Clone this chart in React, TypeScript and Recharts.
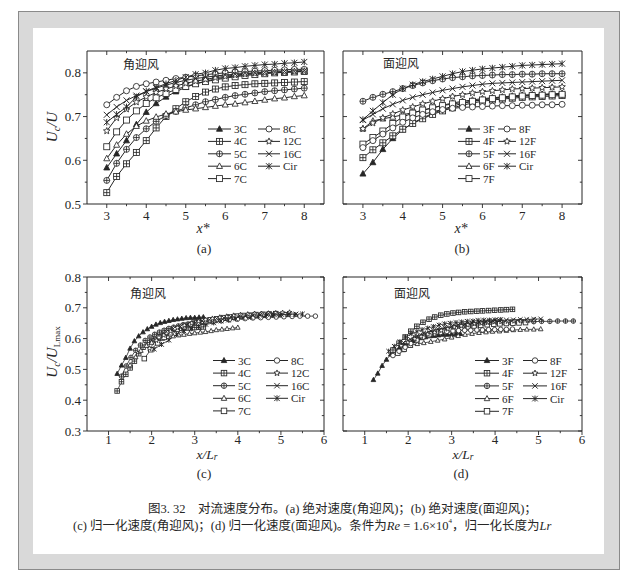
import React from 'react';
import { LineChart, Line, XAxis, YAxis } from 'recharts';

const SERIF = "'Liberation Serif', 'Noto Sans CJK SC', serif";
const CJK = "'Noto Sans CJK SC', 'Liberation Serif', sans-serif";
const INK = '#262626';

// ---------- panel (a)/(b): x* positions ----------
const xStar = [3, 3.25, 3.5, 3.75, 4, 4.25, 4.5, 4.75, 5, 5.25, 5.5, 5.75, 6, 6.25, 6.5, 6.75, 7, 7.25, 7.5, 7.75, 8];

// ---------- panel (a): Uc/U, corner wind ----------
const a3C = [0.583, 0.615, 0.645, 0.682, 0.71, 0.73, 0.745, 0.757, 0.767, 0.775, 0.781, 0.786, 0.79, 0.793, 0.796, 0.798, 0.8, 0.801, 0.802, 0.803, 0.804];
const a4C = [0.526, 0.563, 0.592, 0.618, 0.645, 0.674, 0.7, 0.718, 0.734, 0.746, 0.756, 0.763, 0.768, 0.771, 0.773, 0.775, 0.776, 0.777, 0.778, 0.779, 0.78];
const a5C = [0.554, 0.593, 0.625, 0.652, 0.672, 0.689, 0.702, 0.712, 0.72, 0.727, 0.734, 0.739, 0.744, 0.748, 0.751, 0.754, 0.757, 0.759, 0.761, 0.763, 0.765];
const a6C = [0.604, 0.635, 0.66, 0.678, 0.69, 0.699, 0.706, 0.711, 0.715, 0.718, 0.721, 0.724, 0.727, 0.729, 0.732, 0.735, 0.738, 0.741, 0.743, 0.746, 0.748];
const a7C = [0.631, 0.665, 0.692, 0.713, 0.73, 0.743, 0.753, 0.762, 0.769, 0.775, 0.78, 0.784, 0.788, 0.791, 0.794, 0.796, 0.798, 0.8, 0.801, 0.802, 0.803];
const a8C = [0.727, 0.744, 0.759, 0.769, 0.775, 0.779, 0.783, 0.787, 0.79, 0.793, 0.796, 0.798, 0.8, 0.802, 0.803, 0.804, 0.805, 0.806, 0.807, 0.808, 0.808];
const a12C = [0.667, 0.697, 0.717, 0.733, 0.745, 0.755, 0.763, 0.77, 0.776, 0.781, 0.785, 0.789, 0.792, 0.795, 0.797, 0.799, 0.8, 0.801, 0.802, 0.803, 0.804];
const a16C = [0.704, 0.722, 0.737, 0.748, 0.757, 0.765, 0.772, 0.778, 0.783, 0.787, 0.79, 0.793, 0.795, 0.797, 0.799, 0.8, 0.801, 0.802, 0.803, 0.804, 0.805];
const aCir = [0.687, 0.705, 0.722, 0.745, 0.758, 0.767, 0.775, 0.783, 0.79, 0.797, 0.8, 0.806, 0.81, 0.812, 0.815, 0.817, 0.819, 0.82, 0.822, 0.823, 0.825];

// ---------- panel (b): Uc/U, face wind ----------
const b3F = [0.569, 0.595, 0.625, 0.65, 0.67, 0.685, 0.697, 0.707, 0.716, 0.724, 0.73, 0.735, 0.739, 0.742, 0.744, 0.746, 0.748, 0.749, 0.75, 0.751, 0.752];
const b4F = [0.606, 0.624, 0.64, 0.656, 0.671, 0.684, 0.695, 0.705, 0.713, 0.72, 0.726, 0.731, 0.735, 0.738, 0.74, 0.742, 0.744, 0.745, 0.746, 0.747, 0.748];
const b5F = [0.735, 0.744, 0.751, 0.757, 0.764, 0.771, 0.777, 0.782, 0.786, 0.789, 0.791, 0.793, 0.794, 0.795, 0.796, 0.796, 0.797, 0.797, 0.798, 0.798, 0.798];
const b6F = [0.672, 0.69, 0.695, 0.699, 0.704, 0.709, 0.714, 0.72, 0.726, 0.731, 0.735, 0.738, 0.741, 0.743, 0.745, 0.747, 0.749, 0.75, 0.751, 0.752, 0.753];
const b7F = [0.637, 0.652, 0.667, 0.684, 0.699, 0.708, 0.715, 0.72, 0.725, 0.729, 0.732, 0.735, 0.738, 0.741, 0.743, 0.745, 0.747, 0.748, 0.749, 0.75, 0.751];
const b8F = [0.629, 0.645, 0.66, 0.674, 0.687, 0.697, 0.705, 0.711, 0.716, 0.719, 0.721, 0.722, 0.723, 0.724, 0.725, 0.725, 0.726, 0.726, 0.727, 0.727, 0.728];
const b12F = [0.672, 0.685, 0.697, 0.706, 0.715, 0.722, 0.729, 0.735, 0.741, 0.746, 0.75, 0.754, 0.757, 0.759, 0.761, 0.763, 0.764, 0.765, 0.766, 0.767, 0.768];
const b16F = [0.692, 0.705, 0.718, 0.728, 0.737, 0.744, 0.75, 0.755, 0.76, 0.764, 0.768, 0.771, 0.774, 0.776, 0.777, 0.778, 0.779, 0.78, 0.781, 0.782, 0.783];
const bCir = [0.693, 0.713, 0.732, 0.75, 0.764, 0.773, 0.78, 0.786, 0.792, 0.798, 0.803, 0.806, 0.809, 0.811, 0.813, 0.815, 0.817, 0.818, 0.819, 0.82, 0.821];

// ---------- panel (c): Uc/U_Lmax vs x/Lr, corner wind ----------
const c3Cx = [1.2, 1.3, 1.4, 1.5, 1.6, 1.7, 1.8, 1.9, 2.0, 2.1, 2.2, 2.3, 2.4, 2.5, 2.6, 2.7, 2.8, 2.9, 3.0, 3.1, 3.2];
const c3C = [0.486, 0.513, 0.538, 0.568, 0.592, 0.608, 0.621, 0.631, 0.639, 0.646, 0.651, 0.655, 0.658, 0.661, 0.663, 0.665, 0.667, 0.668, 0.668, 0.669, 0.67];
const c4Cx = [1.2, 1.3, 1.4, 1.5, 1.6, 1.7, 1.8, 1.9, 2.0, 2.1, 2.2, 2.3, 2.4, 2.5, 2.6, 2.7, 2.8, 2.9, 3.0, 3.1, 3.2];
const c4C = [0.43, 0.46, 0.484, 0.505, 0.527, 0.551, 0.572, 0.587, 0.6, 0.61, 0.618, 0.624, 0.628, 0.63, 0.632, 0.634, 0.635, 0.635, 0.636, 0.637, 0.638];
const c5Cx = [1.3, 1.41, 1.52, 1.63, 1.74, 1.85, 1.96, 2.07, 2.18, 2.29, 2.4, 2.51, 2.62, 2.73, 2.84, 2.95, 3.06, 3.17, 3.28, 3.39, 3.5];
const c5C = [0.478, 0.511, 0.539, 0.562, 0.579, 0.594, 0.605, 0.614, 0.621, 0.627, 0.633, 0.637, 0.641, 0.645, 0.647, 0.65, 0.653, 0.654, 0.656, 0.658, 0.659];
const c6Cx = [1.5, 1.63, 1.75, 1.88, 2.0, 2.13, 2.25, 2.38, 2.5, 2.63, 2.75, 2.88, 3.0, 3.13, 3.25, 3.38, 3.5, 3.63, 3.75, 3.88, 4.0];
const c6C = [0.514, 0.54, 0.561, 0.577, 0.587, 0.594, 0.6, 0.605, 0.608, 0.611, 0.613, 0.616, 0.618, 0.62, 0.622, 0.625, 0.628, 0.63, 0.632, 0.634, 0.636];
const c7Cx = [1.83, 1.98, 2.14, 2.29, 2.44, 2.59, 2.75, 2.9, 3.05, 3.2, 3.36, 3.51, 3.66, 3.81, 3.97, 4.12, 4.27, 4.42, 4.58, 4.73, 4.88];
const c7C = [0.535, 0.564, 0.586, 0.604, 0.619, 0.63, 0.638, 0.646, 0.652, 0.657, 0.661, 0.664, 0.668, 0.67, 0.673, 0.675, 0.676, 0.678, 0.679, 0.68, 0.681];
const c8Cx = [2.17, 2.35, 2.53, 2.71, 2.9, 3.08, 3.26, 3.44, 3.62, 3.8, 3.99, 4.17, 4.35, 4.53, 4.71, 4.89, 5.07, 5.26, 5.44, 5.62, 5.8];
const c8C = [0.606, 0.62, 0.633, 0.641, 0.646, 0.649, 0.653, 0.656, 0.658, 0.661, 0.663, 0.665, 0.667, 0.668, 0.669, 0.67, 0.671, 0.672, 0.673, 0.673, 0.673];
const c12Cx = [1.95, 2.11, 2.28, 2.44, 2.6, 2.76, 2.93, 3.09, 3.25, 3.41, 3.58, 3.74, 3.9, 4.06, 4.23, 4.39, 4.55, 4.71, 4.88, 5.04, 5.2];
const c12C = [0.568, 0.594, 0.611, 0.624, 0.635, 0.643, 0.65, 0.656, 0.661, 0.665, 0.669, 0.672, 0.675, 0.677, 0.679, 0.681, 0.681, 0.682, 0.683, 0.684, 0.685];
const c16Cx = [2.0, 2.17, 2.34, 2.5, 2.67, 2.84, 3.01, 3.17, 3.34, 3.51, 3.68, 3.84, 4.01, 4.18, 4.35, 4.51, 4.68, 4.85, 5.02, 5.18, 5.35];
const c16C = [0.595, 0.61, 0.622, 0.632, 0.639, 0.646, 0.652, 0.657, 0.661, 0.665, 0.667, 0.67, 0.671, 0.673, 0.675, 0.676, 0.677, 0.677, 0.678, 0.679, 0.68];
const cCirx = [2.06, 2.23, 2.4, 2.58, 2.75, 2.92, 3.09, 3.26, 3.44, 3.61, 3.78, 3.95, 4.12, 4.3, 4.47, 4.64, 4.81, 4.98, 5.16, 5.33, 5.5];
const cCir = [0.566, 0.581, 0.595, 0.614, 0.625, 0.632, 0.639, 0.646, 0.651, 0.657, 0.66, 0.664, 0.668, 0.669, 0.672, 0.674, 0.675, 0.676, 0.678, 0.678, 0.68];

// ---------- panel (d): Uc/U_Lmax vs x/Lr, face wind ----------
const d3Fx = [1.2, 1.3, 1.4, 1.5, 1.6, 1.7, 1.8, 1.9, 2.0, 2.1, 2.2, 2.3, 2.4, 2.5, 2.6, 2.7, 2.8, 2.9, 3.0, 3.1, 3.2];
const d3F = [0.466, 0.487, 0.512, 0.532, 0.549, 0.561, 0.571, 0.579, 0.586, 0.593, 0.598, 0.602, 0.605, 0.608, 0.609, 0.611, 0.613, 0.613, 0.614, 0.615, 0.616];
const d4Fx = [1.65, 1.79, 1.93, 2.06, 2.2, 2.34, 2.48, 2.61, 2.75, 2.89, 3.03, 3.16, 3.3, 3.44, 3.58, 3.71, 3.85, 3.99, 4.13, 4.26, 4.4];
const d4F = [0.563, 0.585, 0.605, 0.624, 0.64, 0.653, 0.663, 0.67, 0.676, 0.68, 0.683, 0.685, 0.687, 0.688, 0.689, 0.69, 0.691, 0.692, 0.693, 0.694, 0.695];
const d5Fx = [2.17, 2.35, 2.53, 2.71, 2.9, 3.08, 3.26, 3.44, 3.62, 3.8, 3.99, 4.17, 4.35, 4.53, 4.71, 4.89, 5.07, 5.26, 5.44, 5.62, 5.8];
const d5F = [0.605, 0.612, 0.618, 0.623, 0.629, 0.635, 0.64, 0.644, 0.647, 0.649, 0.651, 0.653, 0.653, 0.654, 0.655, 0.655, 0.656, 0.656, 0.657, 0.657, 0.657];
const d6Fx = [1.89, 2.05, 2.21, 2.36, 2.52, 2.68, 2.84, 3.0, 3.15, 3.31, 3.47, 3.63, 3.79, 3.94, 4.1, 4.26, 4.42, 4.58, 4.73, 4.89, 5.05];
const d6F = [0.563, 0.578, 0.583, 0.586, 0.59, 0.594, 0.598, 0.604, 0.609, 0.613, 0.616, 0.619, 0.621, 0.623, 0.624, 0.626, 0.628, 0.629, 0.63, 0.63, 0.631];
const d7Fx = [1.76, 1.91, 2.05, 2.2, 2.35, 2.5, 2.64, 2.79, 2.94, 3.08, 3.23, 3.38, 3.52, 3.67, 3.82, 3.97, 4.11, 4.26, 4.41, 4.55, 4.7];
const d7F = [0.553, 0.566, 0.579, 0.594, 0.607, 0.615, 0.621, 0.625, 0.629, 0.633, 0.635, 0.638, 0.641, 0.643, 0.645, 0.647, 0.648, 0.649, 0.65, 0.651, 0.652];
const d8Fx = [1.65, 1.79, 1.93, 2.06, 2.2, 2.34, 2.48, 2.61, 2.75, 2.89, 3.03, 3.16, 3.3, 3.44, 3.58, 3.71, 3.85, 3.99, 4.13, 4.26, 4.4];
const d8F = [0.545, 0.559, 0.572, 0.584, 0.595, 0.604, 0.611, 0.616, 0.62, 0.623, 0.625, 0.626, 0.627, 0.627, 0.628, 0.628, 0.629, 0.629, 0.63, 0.63, 0.631];
const d12Fx = [1.84, 1.99, 2.15, 2.3, 2.45, 2.61, 2.76, 2.91, 3.06, 3.22, 3.37, 3.52, 3.68, 3.83, 3.98, 4.14, 4.29, 4.44, 4.59, 4.75, 4.9];
const d12F = [0.577, 0.588, 0.599, 0.607, 0.614, 0.62, 0.626, 0.631, 0.637, 0.641, 0.644, 0.648, 0.65, 0.652, 0.654, 0.655, 0.656, 0.657, 0.658, 0.659, 0.66];
const d16Fx = [1.89, 2.05, 2.21, 2.36, 2.52, 2.68, 2.84, 3.0, 3.15, 3.31, 3.47, 3.63, 3.79, 3.94, 4.1, 4.26, 4.42, 4.58, 4.73, 4.89, 5.05];
const d16F = [0.587, 0.598, 0.609, 0.617, 0.625, 0.631, 0.636, 0.64, 0.645, 0.648, 0.651, 0.654, 0.656, 0.658, 0.659, 0.66, 0.661, 0.662, 0.662, 0.663, 0.664];
const dCirx = [1.55, 1.68, 1.81, 1.94, 2.07, 2.2, 2.32, 2.45, 2.58, 2.71, 2.84, 2.97, 3.1, 3.23, 3.36, 3.49, 3.61, 3.74, 3.87, 4.0, 4.13];
const dCir = [0.559, 0.575, 0.59, 0.605, 0.616, 0.623, 0.629, 0.634, 0.639, 0.644, 0.648, 0.65, 0.652, 0.654, 0.656, 0.657, 0.659, 0.66, 0.66, 0.661, 0.662];

// ---------- names, ticks ----------
const namesC = ['3C', '4C', '5C', '6C', '7C', '8C', '12C', '16C', 'Cir'];
const namesF = ['3F', '4F', '5F', '6F', '7F', '8F', '12F', '16F', 'Cir'];
const markerKinds = ['triFill', 'sqCross', 'circPlus', 'triOpen', 'square', 'circle', 'star', 'cross', 'asterisk'];

const xStarTicks = [3, 3.5, 4, 4.5, 5, 5.5, 6, 6.5, 7, 7.5, 8];
const xStarMajors = [3, 4, 5, 6, 7, 8];
const yAbsTicks = [0.5, 0.55, 0.6, 0.65, 0.7, 0.75, 0.8];
const yAbsMajors = [0.5, 0.6, 0.7, 0.8];
const xLrTicks = [1, 1.5, 2, 2.5, 3, 3.5, 4, 4.5, 5, 5.5, 6];
const xLrMajors = [1, 2, 3, 4, 5, 6];
const yNormTicks = [0.3, 0.35, 0.4, 0.45, 0.5, 0.55, 0.6, 0.65, 0.7, 0.75, 0.8];
const yNormMajors = [0.3, 0.4, 0.5, 0.6, 0.7, 0.8];

const zip = (xs: number[], ys: number[]) => xs.map((x, i) => ({ x, y: ys[i] }));

const seriesA = [a3C, a4C, a5C, a6C, a7C, a8C, a12C, a16C, aCir].map((ys, i) => ({ name: namesC[i], kind: markerKinds[i], data: zip(xStar, ys) }));
const seriesB = [b3F, b4F, b5F, b6F, b7F, b8F, b12F, b16F, bCir].map((ys, i) => ({ name: namesF[i], kind: markerKinds[i], data: zip(xStar, ys) }));
const seriesC = [
  zip(c3Cx, c3C), zip(c4Cx, c4C), zip(c5Cx, c5C), zip(c6Cx, c6C), zip(c7Cx, c7C),
  zip(c8Cx, c8C), zip(c12Cx, c12C), zip(c16Cx, c16C), zip(cCirx, cCir),
].map((data, i) => ({ name: namesC[i], kind: markerKinds[i], data }));
const seriesD = [
  zip(d3Fx, d3F), zip(d4Fx, d4F), zip(d5Fx, d5F), zip(d6Fx, d6F), zip(d7Fx, d7F),
  zip(d8Fx, d8F), zip(d12Fx, d12F), zip(d16Fx, d16F), zip(dCirx, dCir),
].map((data, i) => ({ name: namesF[i], kind: markerKinds[i], data }));

// ---------- marker ----------
function Marker({ cx, cy, kind, size }: { cx: number; cy: number; kind: string; size: number }) {
  if (cx == null || cy == null || isNaN(cx) || isNaN(cy)) return <g />;
  const h = size / 2;
  const sw = 0.85;
  const base = { stroke: INK, strokeWidth: sw, fill: '#fff' };
  switch (kind) {
    case 'triFill':
    case 'triOpen': {
      const pts = `${cx},${cy - h * 1.1} ${cx - h},${cy + h * 0.75} ${cx + h},${cy + h * 0.75}`;
      return <polygon points={pts} {...base} fill={kind === 'triFill' ? INK : '#fff'} />;
    }
    case 'sqCross':
      return (
        <g>
          <rect x={cx - h} y={cy - h} width={size} height={size} {...base} />
          <line x1={cx - h} x2={cx + h} y1={cy} y2={cy} stroke={INK} strokeWidth={sw} />
          <line x1={cx} x2={cx} y1={cy - h} y2={cy + h} stroke={INK} strokeWidth={sw} />
        </g>
      );
    case 'circPlus':
      return (
        <g>
          <circle cx={cx} cy={cy} r={h} {...base} />
          <line x1={cx - h} x2={cx + h} y1={cy} y2={cy} stroke={INK} strokeWidth={sw} />
          <line x1={cx} x2={cx} y1={cy - h} y2={cy + h} stroke={INK} strokeWidth={sw} />
        </g>
      );
    case 'square':
      return <rect x={cx - h} y={cy - h} width={size} height={size} {...base} />;
    case 'circle':
      return <circle cx={cx} cy={cy} r={h} {...base} />;
    case 'star': {
      const R = h * 1.15;
      const r = R * 0.45;
      const pts: string[] = [];
      for (let k = 0; k < 10; k++) {
        const ang = (-90 + k * 36) * Math.PI / 180;
        const rad = k % 2 === 0 ? R : r;
        pts.push(`${cx + rad * Math.cos(ang)},${cy + rad * Math.sin(ang)}`);
      }
      return <polygon points={pts.join(' ')} {...base} />;
    }
    case 'cross':
      return (
        <g stroke={INK} strokeWidth={sw + 0.1}>
          <line x1={cx - h} x2={cx + h} y1={cy - h} y2={cy + h} />
          <line x1={cx - h} x2={cx + h} y1={cy + h} y2={cy - h} />
        </g>
      );
    case 'asterisk':
    default:
      return (
        <g stroke={INK} strokeWidth={sw + 0.1}>
          <line x1={cx - h} x2={cx + h} y1={cy - h} y2={cy + h} />
          <line x1={cx - h} x2={cx + h} y1={cy + h} y2={cy - h} />
          <line x1={cx} x2={cx} y1={cy - h * 1.1} y2={cy + h * 1.1} />
        </g>
      );
  }
}

// ---------- axis tick ----------
function AxisTick(props: any) {
  const { x, y, payload, side, majors, dir, showLabel, off } = props;
  const v = Number(payload && payload.value);
  const major = majors.some((m: number) => Math.abs(m - v) < 1e-6);
  const len = major ? 4 : 2.2;
  let x2 = x;
  let y2 = y;
  if (side === 'bottom') y2 = y + dir * len;
  else if (side === 'top') y2 = y - dir * len;
  else if (side === 'left') x2 = x - dir * len;
  else x2 = x + dir * len;
  let label = null;
  if (showLabel && major) {
    if (side === 'bottom') {
      label = (
        <text x={x} y={y + off} textAnchor="middle" dominantBaseline="central" fontFamily={SERIF} fontSize={13} fill={INK}>
          {String(v)}
        </text>
      );
    } else {
      label = (
        <text x={x - off} y={y} textAnchor="end" dominantBaseline="central" fontFamily={SERIF} fontSize={13} fill={INK}>
          {v.toFixed(1)}
        </text>
      );
    }
  }
  return (
    <g>
      <line x1={x} y1={y} x2={x2} y2={y2} stroke={INK} strokeWidth={0.9} />
      {label}
    </g>
  );
}

type PanelProps = {
  plot: { x: number; y: number; w: number; h: number };
  xDomain: number[];
  yDomain: number[];
  xTicks: number[];
  xMajors: number[];
  yTicks: number[];
  yMajors: number[];
  yLabels: boolean;
  xLabOff: number;
  series: { name: string; kind: string; data: { x: number; y: number }[] }[];
  ms: number;
  lw: number;
};

function Panel({ plot, xDomain, yDomain, xTicks, xMajors, yTicks, yMajors, yLabels, xLabOff, series, ms, lw }: PanelProps) {
  const padL = 50, padT = 8, padR = 8, padB = 26;
  const w = plot.w + padL + padR;
  const h = plot.h + padT + padB;
  const axisLine = { stroke: INK, strokeWidth: 1 };
  return (
    <div style={{ position: 'absolute', left: plot.x - padL, top: plot.y - padT, width: w, height: h }}>
      <LineChart width={w} height={h} margin={{ top: padT - 1, right: padR - 1, bottom: padB - 1, left: padL - 1 }}>
        <XAxis xAxisId="b" type="number" dataKey="x" domain={xDomain} ticks={xTicks} interval={0}
          allowDataOverflow height={1} tickSize={0} tickMargin={0} tickLine={false} axisLine={axisLine}
          tick={<AxisTick side="bottom" majors={xMajors} dir={1} showLabel off={xLabOff} />} />
        <XAxis xAxisId="t" orientation="top" type="number" dataKey="x" domain={xDomain} ticks={xTicks} interval={0}
          allowDataOverflow height={1} tickSize={0} tickMargin={0} tickLine={false} axisLine={axisLine}
          tick={<AxisTick side="top" majors={xMajors} dir={-1} showLabel={false} off={0} />} />
        <YAxis yAxisId="l" type="number" domain={yDomain} ticks={yTicks} interval={0}
          allowDataOverflow width={1} tickSize={0} tickMargin={0} tickLine={false} axisLine={axisLine}
          tick={<AxisTick side="left" majors={yMajors} dir={yLabels ? 1 : -1} showLabel={yLabels} off={6} />} />
        <YAxis yAxisId="r" orientation="right" type="number" domain={yDomain} ticks={yTicks} interval={0}
          allowDataOverflow width={1} tickSize={0} tickMargin={0} tickLine={false} axisLine={axisLine}
          tick={<AxisTick side="right" majors={yMajors} dir={-1} showLabel={false} off={0} />} />
        {series.map((s) => (
          <Line key={s.name} xAxisId="b" yAxisId="l" data={s.data} dataKey="y" type="linear"
            stroke={INK} strokeWidth={lw} isAnimationActive={false} activeDot={false}
            dot={(p: any) => <Marker key={`${s.name}-${p.index}`} cx={p.cx} cy={p.cy} kind={s.kind} size={ms} />} />
        ))}
      </LineChart>
    </div>
  );
}

type LegendCfg = { c1: number[]; c2: number[]; y0: number; dy: number; ms: number; fs: number };

function LegendBlock({ names, cfg }: { names: string[]; cfg: LegendCfg }) {
  return (
    <g>
      {names.map((n, i) => {
        const col = i < 5 ? cfg.c1 : cfg.c2;
        const row = i < 5 ? i : i - 5;
        const y = cfg.y0 + row * cfg.dy;
        return (
          <g key={n}>
            <line x1={col[0]} x2={col[1]} y1={y} y2={y} stroke={INK} strokeWidth={1} />
            <Marker cx={(col[0] + col[1]) / 2} cy={y} kind={markerKinds[i]} size={cfg.ms} />
            <text x={col[2]} y={y} dominantBaseline="central" fontFamily={SERIF} fontSize={cfg.fs} fill={INK}>{n}</text>
          </g>
        );
      })}
    </g>
  );
}

const legA: LegendCfg = { c1: [208, 231, 234], c2: [258, 280, 283], y0: 129, dy: 12.4, ms: 6, fs: 11 };
const legB: LegendCfg = { c1: [458, 480, 483], c2: [498, 516, 519], y0: 129, dy: 12.4, ms: 6, fs: 11 };
const legC: LegendCfg = { c1: [213, 235, 238], c2: [266, 288, 291], y0: 360.5, dy: 12.6, ms: 5.5, fs: 11 };
const legD: LegendCfg = { c1: [475, 499, 502], c2: [523, 547, 550], y0: 360.5, dy: 12.7, ms: 5.5, fs: 11 };

export default function App() {
  return (
    <div style={{ position: 'absolute', left: 0, top: 0, width: 634, height: 581, background: '#fff', overflow: 'hidden' }}>
      <div style={{ position: 'absolute', left: 18, top: 11, width: 600, height: 557, background: '#d9d9d9', border: '1px solid #8a8a8a' }} />
      <div style={{ position: 'absolute', left: 33, top: 28, width: 571, height: 526, background: '#fff' }} />

      <Panel plot={{ x: 87, y: 51, w: 237, h: 153 }} xDomain={[2.5, 8.5]} yDomain={[0.5, 0.85]}
        xTicks={xStarTicks} xMajors={xStarMajors} yTicks={yAbsTicks} yMajors={yAbsMajors}
        yLabels xLabOff={11} series={seriesA} ms={6} lw={1} />
      <Panel plot={{ x: 343, y: 51, w: 239, h: 153 }} xDomain={[2.5, 8.5]} yDomain={[0.5, 0.85]}
        xTicks={xStarTicks} xMajors={xStarMajors} yTicks={yAbsTicks} yMajors={yAbsMajors}
        yLabels={false} xLabOff={11} series={seriesB} ms={6} lw={1} />
      <Panel plot={{ x: 87, y: 277, w: 237, h: 154 }} xDomain={[0.5, 6]} yDomain={[0.3, 0.8]}
        xTicks={xLrTicks} xMajors={xLrMajors} yTicks={yNormTicks} yMajors={yNormMajors}
        yLabels xLabOff={8} series={seriesC} ms={4.6} lw={0.8} />
      <Panel plot={{ x: 343, y: 277, w: 239, h: 154 }} xDomain={[0.5, 6]} yDomain={[0.3, 0.8]}
        xTicks={xLrTicks} xMajors={xLrMajors} yTicks={yNormTicks} yMajors={yNormMajors}
        yLabels={false} xLabOff={8} series={seriesD} ms={4.6} lw={0.8} />

      <svg width={634} height={581} style={{ position: 'absolute', left: 0, top: 0, pointerEvents: 'none' }}>
        <text x={123} y={63} dominantBaseline="central" fontFamily={CJK} fontSize={12} fill={INK}>角迎风</text>
        <text x={383} y={62} dominantBaseline="central" fontFamily={CJK} fontSize={12} fill={INK}>面迎风</text>
        <text x={130} y={292} dominantBaseline="central" fontFamily={CJK} fontSize={12} fill={INK}>角迎风</text>
        <text x={394} y={292} dominantBaseline="central" fontFamily={CJK} fontSize={12} fill={INK}>面迎风</text>

        <LegendBlock names={namesC} cfg={legA} />
        <LegendBlock names={namesF} cfg={legB} />
        <LegendBlock names={namesC} cfg={legC} />
        <LegendBlock names={namesF} cfg={legD} />

        <text transform="translate(57,127) rotate(-90)" textAnchor="middle" fontFamily={SERIF} fontStyle="italic" fontSize={15} fill={INK}>
          U<tspan fontSize={10} dy={3}>c</tspan><tspan dy={-3}>/U</tspan>
        </text>
        <text transform="translate(57,352) rotate(-90)" textAnchor="middle" fontFamily={SERIF} fontStyle="italic" fontSize={15} fill={INK}>
          U<tspan fontSize={10} dy={3}>c</tspan><tspan dy={-3}>/U</tspan><tspan fontSize={9} dy={3} fontStyle="normal">Lmax</tspan>
        </text>

        <text x={203} y={228} textAnchor="middle" dominantBaseline="central" fontFamily={SERIF} fontStyle="italic" fontSize={14} fill={INK}>x*</text>
        <text x={461} y={228} textAnchor="middle" dominantBaseline="central" fontFamily={SERIF} fontStyle="italic" fontSize={14} fill={INK}>x*</text>
        <text x={207} y={454} textAnchor="middle" dominantBaseline="central" fontFamily={SERIF} fontStyle="italic" fontSize={13.5} fill={INK}>
          x/L<tspan fontSize={9.5} dy={3}>r</tspan>
        </text>
        <text x={463} y={454} textAnchor="middle" dominantBaseline="central" fontFamily={SERIF} fontStyle="italic" fontSize={13.5} fill={INK}>
          x/L<tspan fontSize={9.5} dy={3}>r</tspan>
        </text>

        <text x={204} y={248} textAnchor="middle" dominantBaseline="central" fontFamily={SERIF} fontSize={13} fill={INK}>(a)</text>
        <text x={462} y={248} textAnchor="middle" dominantBaseline="central" fontFamily={SERIF} fontSize={13} fill={INK}>(b)</text>
        <text x={204} y={473} textAnchor="middle" dominantBaseline="central" fontFamily={SERIF} fontSize={13} fill={INK}>(c)</text>
        <text x={461} y={473} textAnchor="middle" dominantBaseline="central" fontFamily={SERIF} fontSize={13} fill={INK}>(d)</text>

        <text x={148} y={509} dominantBaseline="central" fontFamily={SERIF} fontSize={12.5} fill={INK}>
          图3. 32　对流速度分布。(a) 绝对速度(角迎风)；(b) 绝对速度(面迎风)；
        </text>
        <text x={73} y={526} dominantBaseline="central" fontFamily={SERIF} fontSize={12.5} fill={INK}>
          (c) 归一化速度(角迎风)；(d) 归一化速度(面迎风)。条件为<tspan fontStyle="italic">Re</tspan> = 1.6×10<tspan fontSize={7} dy={-5}>4</tspan><tspan dy={5}>，归一化长度为</tspan><tspan fontStyle="italic">Lr</tspan>
        </text>
      </svg>
    </div>
  );
}
